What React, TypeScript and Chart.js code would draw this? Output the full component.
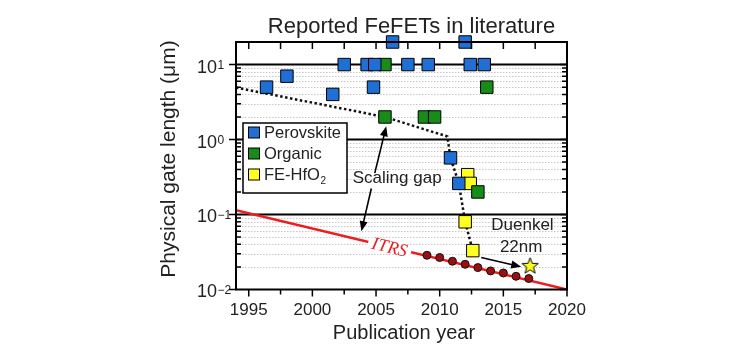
import React, { useEffect, useRef } from 'react';
import { Chart, registerables } from 'chart.js';

Chart.register(...registerables);

const FONT = "'Liberation Sans', Arial, Helvetica, sans-serif";

// ---- data ----
const perovskiteYears = [1996.4, 1998.0, 2001.6, 2002.5, 2004.3, 2004.8, 2004.9, 2006.3, 2007.5, 2009.1, 2010.85, 2011.5, 2012.0, 2012.4, 2013.5];
const perovskiteLengths = [5, 7, 4, 10, 10, 5, 10, 20, 10, 10, 0.57, 0.26, 20, 10, 10];
const organicYears = [2005.7, 2005.7, 2008.8, 2009.6, 2013.0, 2013.7];
const organicLengths = [10, 2, 2, 2, 0.2, 5];
const hfo2Years = [2012.2, 2012.4, 2012.0, 2012.6];
const hfo2Lengths = [0.34, 0.26, 0.08, 0.033];
const itrsDotYears = [2009, 2010, 2011, 2012, 2013, 2014, 2015, 2016, 2017];
const itrsDotLengths = [0.0286, 0.0267, 0.0238, 0.0217, 0.0196, 0.0177, 0.0166, 0.015, 0.014];
const itrsLineYears = [1994, 2020];
const itrsLineLengths = [0.114, 0.01];
const trendYears = [1994, 2005.7, 2010.6, 2010.85, 2011.5, 2012.0, 2012.6];
const trendLengths = [4.93, 2.0, 1.1, 0.57, 0.26, 0.08, 0.033];
const duenkelYears = [2017.1];
const duenkelLengths = [0.021];

// ---- axes ----
const X_MIN = 1994;
const X_MAX = 2020;
const Y_MIN = 0.01;
const Y_MAX = 20;
const xLabelYears = [1995, 2000, 2005, 2010, 2015, 2020];
const xMinorYears = [1997.5, 2002.5, 2007.5, 2012.5, 2017.5];
const yDecadeExponents = [-2, -1, 0, 1];

// ---- text ----
const titleText = 'Reported FeFETs in literature';
const xTitle = 'Publication year';
const yTitle = 'Physical gate length (\u03bcm)';
const legendLabels = ['Perovskite', 'Organic', 'FE-HfO'];
const gapLabel = 'Scaling gap';
const gapLabelAt = [2006.66, 0.3];
const gapArrowUp = [2004.9, 0.356, 2005.8, 1.5];
const gapArrowDown = [2004.63, 0.222, 2003.85, 0.06];
const duenkelLabel = ['Duenkel', '22nm'];
const duenkelLabelAt = [[2016.5, 0.072], [2016.4, 0.0366]];
const duenkelArrow = [2013.26, 0.0267, 2016.4, 0.0201];
const itrsLabel = 'ITRS';
const itrsLabelYear = 2006.07;

const BLUE = '#1f6fd4';
const GREEN = '#178c17';
const YELLOW = '#ffff22';
const RED = '#ee1c1c';

function pts(xs: number[], ys: number[]) {
  return xs.map((x, i) => ({ x, y: ys[i] }));
}

function makeStar(R: number) {
  const c = document.createElement('canvas');
  const s = Math.ceil(R * 2 + 4);
  c.width = s;
  c.height = s;
  const g = c.getContext('2d')!;
  const cx = s / 2;
  const cy = s / 2 + R * 0.1;
  const r = R * 0.42;
  g.beginPath();
  for (let i = 0; i < 10; i++) {
    const ang = -Math.PI / 2 + (i * Math.PI) / 5;
    const rr = i % 2 === 0 ? R : r;
    const px = cx + rr * Math.cos(ang);
    const py = cy + rr * Math.sin(ang);
    if (i === 0) g.moveTo(px, py);
    else g.lineTo(px, py);
  }
  g.closePath();
  g.fillStyle = YELLOW;
  g.fill();
  g.lineWidth = 1;
  g.strokeStyle = '#000';
  g.stroke();
  return c;
}

function drawArrow(ctx: CanvasRenderingContext2D, x1: number, y1: number, x2: number, y2: number) {
  const ang = Math.atan2(y2 - y1, x2 - x1);
  const hl = 10;
  const hw = 4;
  ctx.save();
  ctx.strokeStyle = '#000';
  ctx.fillStyle = '#000';
  ctx.lineWidth = 1.6;
  ctx.beginPath();
  ctx.moveTo(x1, y1);
  ctx.lineTo(x2 - Math.cos(ang) * (hl - 2), y2 - Math.sin(ang) * (hl - 2));
  ctx.stroke();
  ctx.beginPath();
  ctx.moveTo(x2, y2);
  ctx.lineTo(x2 - Math.cos(ang) * hl - Math.sin(ang) * hw, y2 - Math.sin(ang) * hl + Math.cos(ang) * hw);
  ctx.lineTo(x2 - Math.cos(ang) * hl + Math.sin(ang) * hw, y2 - Math.sin(ang) * hl - Math.cos(ang) * hw);
  ctx.closePath();
  ctx.fill();
  ctx.restore();
}

const decorPlugin = {
  id: 'decor',
  beforeDatasetsDraw(chart: any) {
    const { ctx, chartArea, scales } = chart;
    const { left, right } = chartArea;
    const y = scales.y;
    ctx.save();
    // minor dotted grid
    ctx.strokeStyle = '#c8c8c8';
    ctx.lineWidth = 1;
    ctx.setLineDash([1.5, 1.5]);
    for (const e of yDecadeExponents) {
      for (let m = 2; m <= 9; m++) {
        const v = m * Math.pow(10, e);
        if (v >= Y_MAX) continue;
        const py = Math.round(y.getPixelForValue(v)) + 0.5;
        ctx.beginPath();
        ctx.moveTo(left, py);
        ctx.lineTo(right, py);
        ctx.stroke();
      }
    }
    ctx.setLineDash([]);
    // decade lines
    ctx.strokeStyle = '#000';
    ctx.lineWidth = 2;
    for (const e of [-1, 0, 1]) {
      const py = y.getPixelForValue(Math.pow(10, e));
      ctx.beginPath();
      ctx.moveTo(left, py);
      ctx.lineTo(right, py);
      ctx.stroke();
    }
    ctx.restore();
  },
  afterDatasetsDraw(chart: any) {
    const { ctx, chartArea, scales } = chart;
    const { left, right, top, bottom } = chartArea;
    const x = scales.x;
    const y = scales.y;
    ctx.save();

    // ITRS label on the red line
    const lx = x.getPixelForValue(itrsLabelYear);
    const x0 = x.getPixelForValue(itrsLineYears[0]);
    const x1 = x.getPixelForValue(itrsLineYears[1]);
    const y0 = y.getPixelForValue(itrsLineLengths[0]);
    const y1 = y.getPixelForValue(itrsLineLengths[1]);
    const ly = y0 + ((lx - x0) * (y1 - y0)) / (x1 - x0);
    const ang = Math.atan2(y1 - y0, x1 - x0);
    ctx.save();
    ctx.translate(lx, ly);
    ctx.rotate(ang);
    ctx.fillStyle = '#fff';
    ctx.fillRect(-22, -5, 44, 10);
    ctx.fillStyle = RED;
    ctx.font = "italic 18px 'Liberation Serif', 'Times New Roman', serif";
    ctx.textAlign = 'center';
    ctx.textBaseline = 'middle';
    ctx.fillText(itrsLabel, 0, 1);
    ctx.restore();

    // frame
    ctx.strokeStyle = '#000';
    ctx.lineWidth = 2;
    ctx.strokeRect(left, top, right - left, bottom - top);

    // x ticks
    ctx.lineWidth = 1.5;
    const allX = [...xLabelYears, ...xMinorYears];
    for (const yr of allX) {
      const px = x.getPixelForValue(yr);
      const major = xLabelYears.includes(yr);
      ctx.beginPath();
      ctx.moveTo(px, bottom);
      ctx.lineTo(px, bottom + (major ? 7 : 5));
      ctx.moveTo(px, top);
      ctx.lineTo(px, top + 7);
      ctx.stroke();
    }
    // y ticks
    for (const e of yDecadeExponents) {
      const py = y.getPixelForValue(Math.pow(10, e));
      ctx.beginPath();
      ctx.moveTo(left - 7, py);
      ctx.lineTo(left, py);
      ctx.moveTo(right - 7, py);
      ctx.lineTo(right, py);
      ctx.stroke();
      for (let m = 2; m <= 9; m++) {
        const v = m * Math.pow(10, e);
        if (v >= Y_MAX) continue;
        const pm = y.getPixelForValue(v);
        ctx.beginPath();
        ctx.moveTo(left, pm);
        ctx.lineTo(left + 5, pm);
        ctx.moveTo(right - 5, pm);
        ctx.lineTo(right, pm);
        ctx.stroke();
      }
    }

    ctx.fillStyle = '#222';
    // x tick labels
    ctx.font = `17px ${FONT}`;
    ctx.textAlign = 'center';
    ctx.textBaseline = 'alphabetic';
    for (const yr of xLabelYears) {
      ctx.fillText(String(yr), x.getPixelForValue(yr), 315);
    }
    // y tick labels
    for (const e of yDecadeExponents) {
      const py = y.getPixelForValue(Math.pow(10, e));
      ctx.font = `18px ${FONT}`;
      ctx.textAlign = 'left';
      ctx.textBaseline = 'middle';
      ctx.fillText('10', 197, py + 3);
      const w = ctx.measureText('10').width;
      ctx.font = `12px ${FONT}`;
      ctx.textBaseline = 'top';
      ctx.fillText(e < 0 ? '\u2212' + Math.abs(e) : String(e), 197 + w + 0.5, py - 5);
    }

    // titles
    ctx.font = `22px ${FONT}`;
    ctx.textAlign = 'center';
    ctx.textBaseline = 'alphabetic';
    ctx.fillText(titleText, 411.5, 33);
    ctx.font = `20px ${FONT}`;
    ctx.fillText(xTitle, 404, 339);
    ctx.save();
    ctx.translate(169, 159);
    ctx.rotate(-Math.PI / 2);
    ctx.font = `21px ${FONT}`;
    ctx.textBaseline = 'middle';
    ctx.fillText(yTitle, 0, 0);
    ctx.restore();

    // legend
    ctx.fillStyle = '#fff';
    ctx.fillRect(243, 123, 104, 70);
    ctx.strokeStyle = '#000';
    ctx.lineWidth = 1.5;
    ctx.strokeRect(243, 123, 104, 70);
    const legColors = [BLUE, GREEN, YELLOW];
    legendLabels.forEach((lab, i) => {
      const cy = 132.5 + i * 21;
      ctx.fillStyle = legColors[i];
      ctx.fillRect(248.5, cy - 5.5, 11, 11);
      ctx.lineWidth = 1;
      ctx.strokeStyle = '#000';
      ctx.strokeRect(248.5, cy - 5.5, 11, 11);
      ctx.fillStyle = '#222';
      ctx.font = `16.5px ${FONT}`;
      ctx.textAlign = 'left';
      ctx.textBaseline = 'middle';
      ctx.fillText(lab, 264, cy + 1);
      if (i === 2) {
        const w = ctx.measureText(lab).width;
        ctx.font = `10px ${FONT}`;
        ctx.fillText('2', 264 + w + 0.5, cy + 7);
      }
    });

    // annotations
    ctx.fillStyle = '#222';
    ctx.font = `17px ${FONT}`;
    ctx.textAlign = 'center';
    ctx.textBaseline = 'middle';
    ctx.fillText(gapLabel, x.getPixelForValue(gapLabelAt[0]), y.getPixelForValue(gapLabelAt[1]));
    duenkelLabel.forEach((t, i) => {
      ctx.fillText(t, x.getPixelForValue(duenkelLabelAt[i][0]), y.getPixelForValue(duenkelLabelAt[i][1]));
    });
    const arr = (a: number[]) =>
      drawArrow(ctx, x.getPixelForValue(a[0]), y.getPixelForValue(a[1]), x.getPixelForValue(a[2]), y.getPixelForValue(a[3]));
    arr(gapArrowUp);
    arr(gapArrowDown);
    arr(duenkelArrow);

    ctx.restore();
  },
};

export default function App() {
  const ref = useRef<HTMLCanvasElement | null>(null);
  useEffect(() => {
    if (!ref.current) return;
    const star = makeStar(8.5);
    const square = { pointStyle: 'rect', pointRadius: 8.8, borderColor: '#000', borderWidth: 1, showLine: false, clip: false };
    const chart = new Chart(ref.current, {
      type: 'scatter',
      data: {
        datasets: [
          { label: 'Duenkel', data: pts(duenkelYears, duenkelLengths), pointStyle: star as any, pointRadius: 9, showLine: false, clip: false, order: 0 } as any,
          { label: 'Perovskite', data: pts(perovskiteYears, perovskiteLengths), backgroundColor: BLUE, ...square, order: 1 } as any,
          { label: 'Organic', data: pts(organicYears, organicLengths), backgroundColor: GREEN, ...square, order: 2 } as any,
          { label: 'FE-HfO2', data: pts(hfo2Years, hfo2Lengths), backgroundColor: YELLOW, ...square, order: 3 } as any,
          { label: 'ITRS points', data: pts(itrsDotYears, itrsDotLengths), backgroundColor: '#9a1010', borderColor: '#111', borderWidth: 1, pointRadius: 4, showLine: false, clip: false, order: 4 } as any,
          { label: 'Trend', data: pts(trendYears, trendLengths), showLine: true, borderColor: '#111', borderWidth: 2.5, borderDash: [2.5, 2.5], pointRadius: 0, fill: false, order: 5 } as any,
          { label: 'ITRS', data: pts(itrsLineYears, itrsLineLengths), showLine: true, borderColor: RED, borderWidth: 2.5, pointRadius: 0, fill: false, order: 6 } as any,
        ],
      },
      options: {
        animation: false,
        responsive: false,
        layout: { padding: { left: 236, right: 186, top: 42, bottom: 62.5 } },
        plugins: { legend: { display: false }, title: { display: false }, tooltip: { enabled: false } },
        events: [],
        scales: {
          x: { type: 'linear', min: X_MIN, max: X_MAX, display: false },
          y: { type: 'logarithmic', min: Y_MIN, max: Y_MAX, display: false },
        },
      },
      plugins: [decorPlugin],
    } as any);
    return () => chart.destroy();
  }, []);
  return (
    <div style={{ position: 'fixed', left: 0, top: 0, width: 753, height: 352, background: '#fff' }}>
      <canvas ref={ref} width={753} height={352} style={{ display: 'block' }} />
    </div>
  );
}
